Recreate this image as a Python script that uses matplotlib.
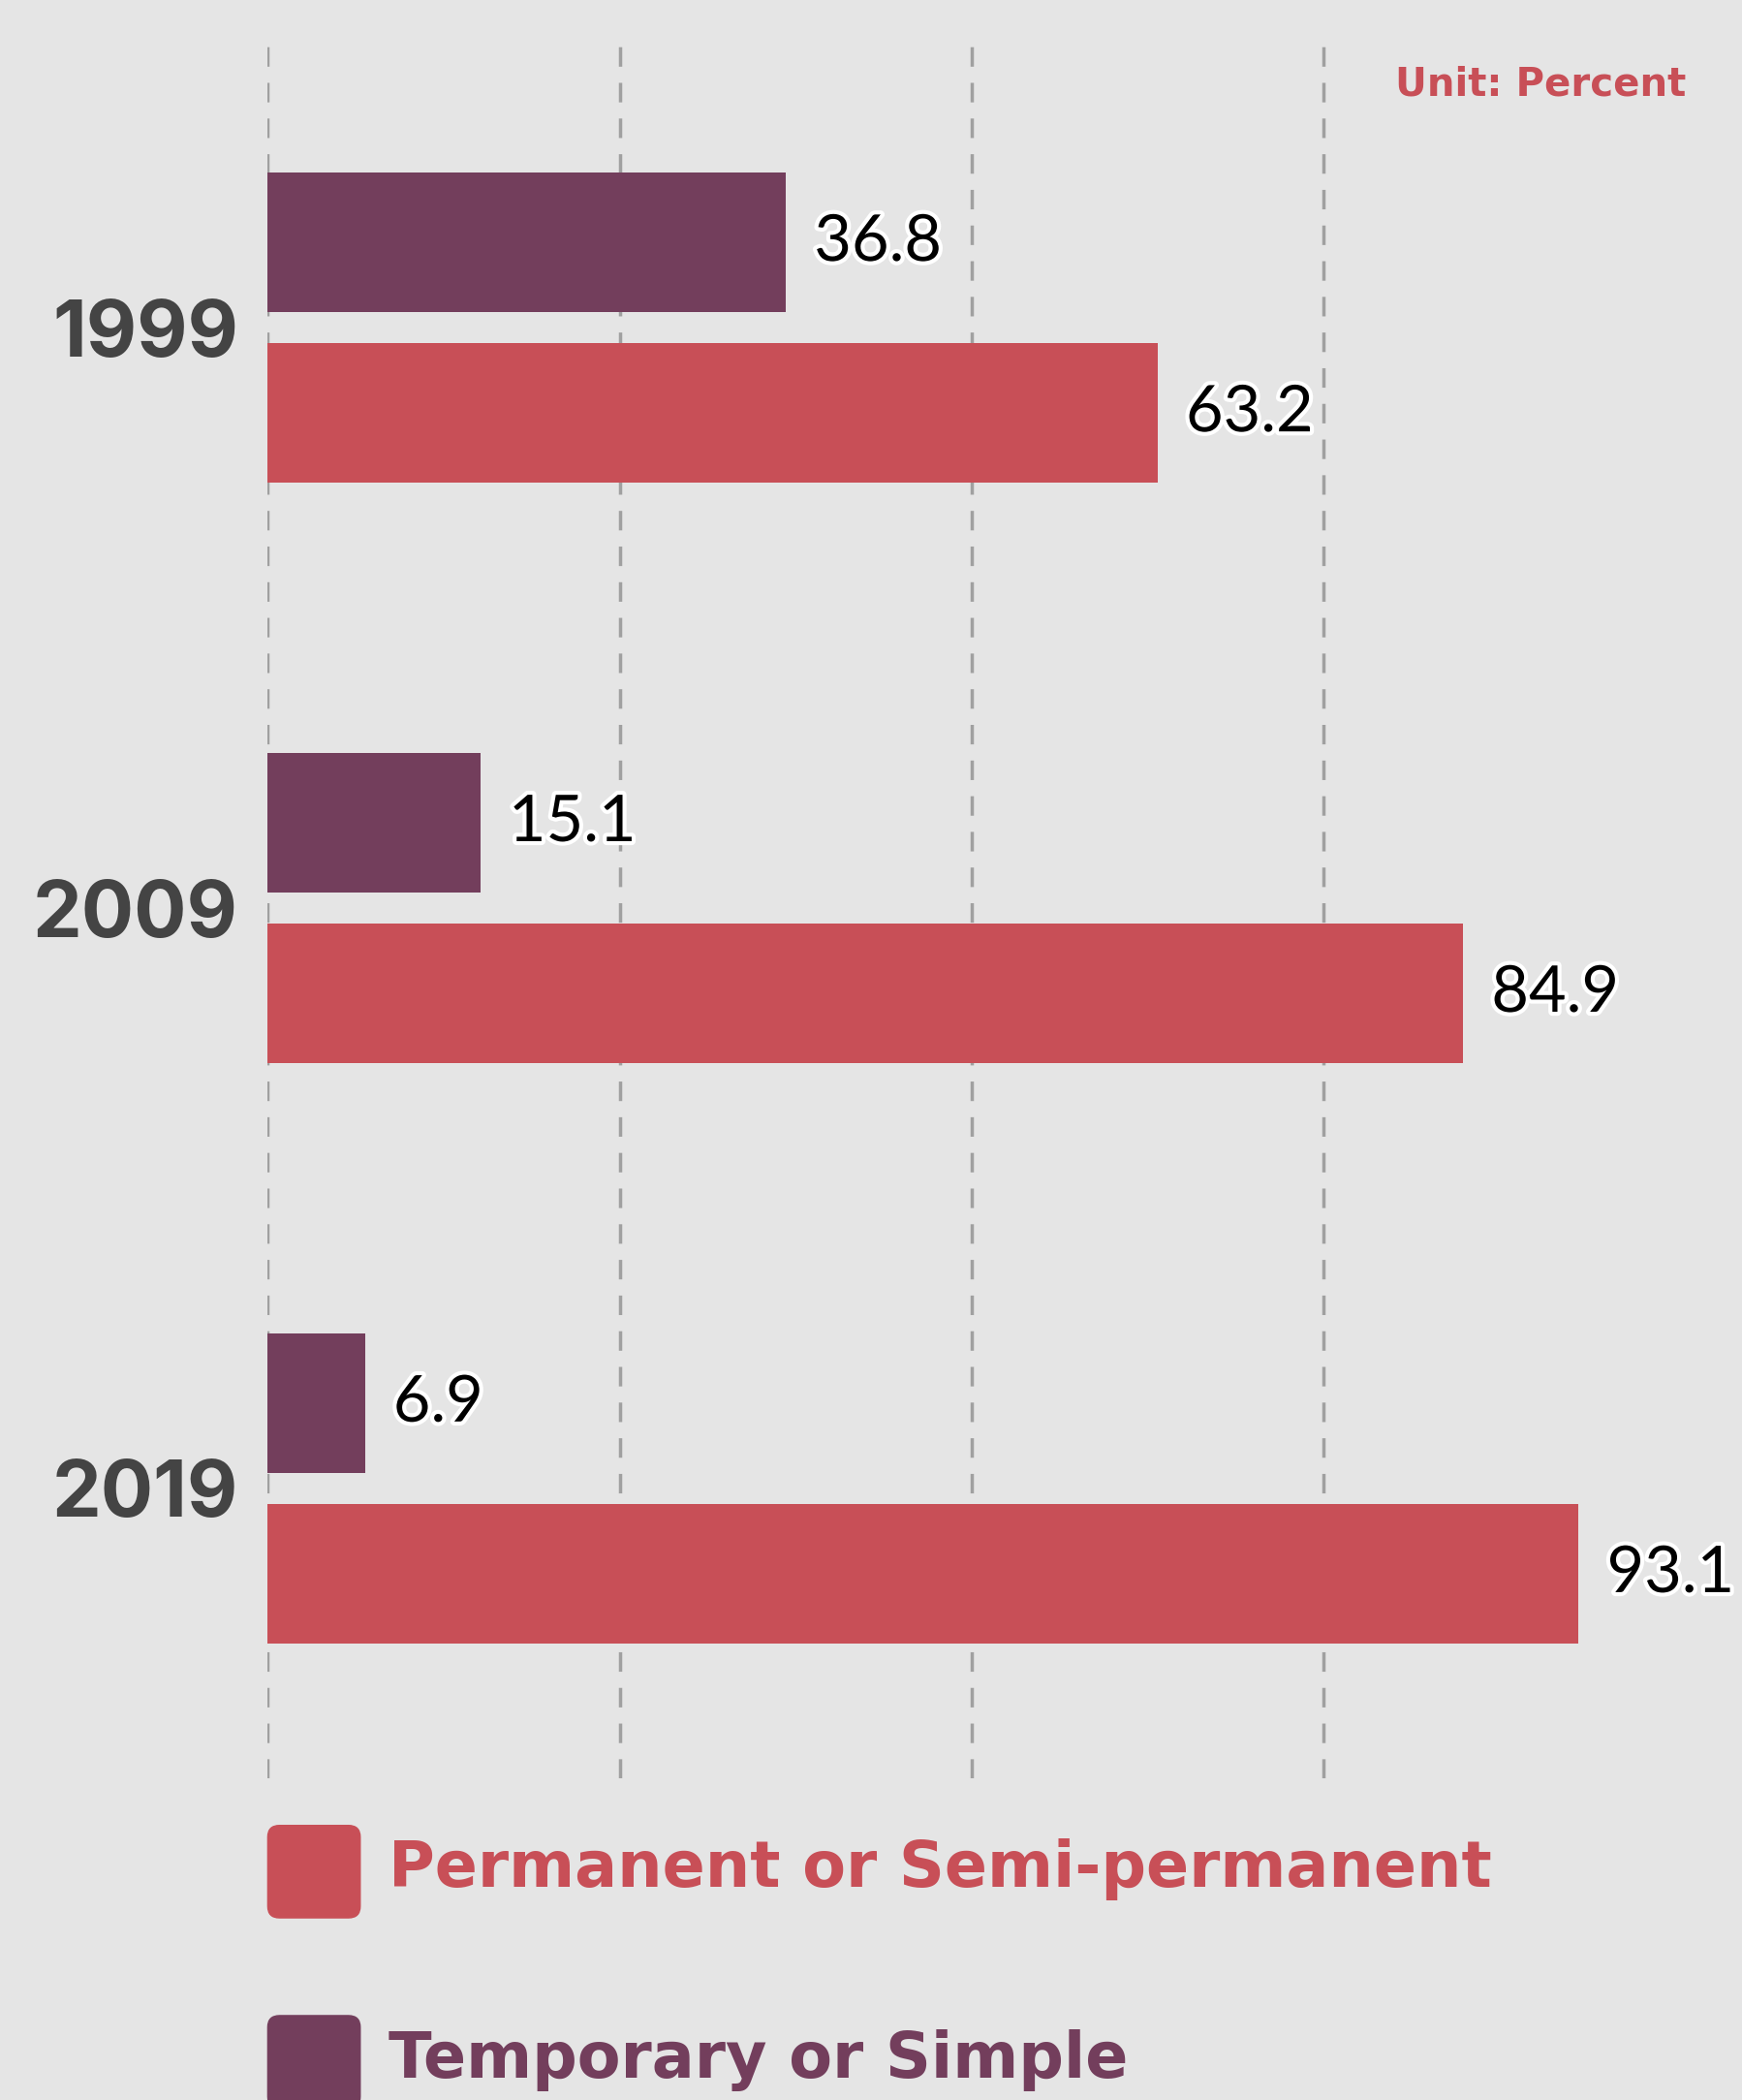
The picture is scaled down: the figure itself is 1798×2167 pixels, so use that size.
import numpy as np
import matplotlib.pyplot as plt
from matplotlib.patches import FancyBboxPatch
import matplotlib.patheffects as pe

years = ["1999", "2009", "2019"]
temporary = [36.8, 15.1, 6.9]
permanent = [63.2, 84.9, 93.1]
series_names = ["Permanent or Semi-permanent", "Temporary or Simple"]

red = "#C84F57"
purple = "#733E5C"
bg = "#E5E5E5"
head_font = "DejaVu Sans"

W, H = 1798, 2167
fig = plt.figure(figsize=(W / 100, H / 100), dpi=100, facecolor=bg)
# reference was read at 1301 px wide, so scale
s = W / 1301
ax = fig.add_axes([200 / 1301, 1 - 1328 / 1568, 1101 / 1301, 1300 / 1568])
ax.set_facecolor(bg)

y = np.arange(len(years))
h = 0.24
off = 0.147
ax.barh(y - off, temporary, height=h, color=purple, zorder=2)
ax.barh(y + off, permanent, height=h, color=red, zorder=2)

ax.set_xlim(0, 104.7)
ax.set_ylim(2.5, -0.5)
ax.set_xticks([0, 25, 50, 75])
ax.grid(axis="x", color="#A0A0A0", linestyle=(0, (5.8, 4.8)), linewidth=2.5, zorder=1)
ax.tick_params(axis="x", length=0, labelbottom=False)
ax.tick_params(axis="y", length=0, pad=22)
ax.set_yticks(y)
ax.set_yticklabels(years, fontsize=58, fontweight="bold", color="#444444", family="Inter")
for sp in ax.spines.values():
    sp.set_visible(False)

halo = [pe.withStroke(linewidth=6, foreground="white")]
for vals, pos in [(temporary, y - off), (permanent, y + off)]:
    for v, p in zip(vals, pos):
        ax.text(v + 2.0, p, f"{v}", va="center", ha="left", fontsize=48,
                family="Lato", color="black", path_effects=halo, zorder=3)

fig.text(1259 / 1301, 1 - 63 / 1568, "Unit: Percent", ha="right", va="center",
         fontsize=29, fontweight="bold", color=red, family=head_font)

# legend
inch = s / 100
for name, col, top in [(series_names[0], red, 1363), (series_names[1], purple, 1505)]:
    box = FancyBboxPatch((200 * inch, (1568 - top - 69) * inch), 69 * inch, 69 * inch,
                         boxstyle="round,pad=0,rounding_size=0.12",
                         transform=fig.dpi_scale_trans, color=col, clip_on=False)
    fig.patches.append(box)
    fig.text(290 / 1301, 1 - (top + 33) / 1568, name, ha="left", va="center",
             fontsize=47, fontweight="bold", color=col, family=head_font)

fig.savefig("out.png", dpi=100, facecolor=bg)
